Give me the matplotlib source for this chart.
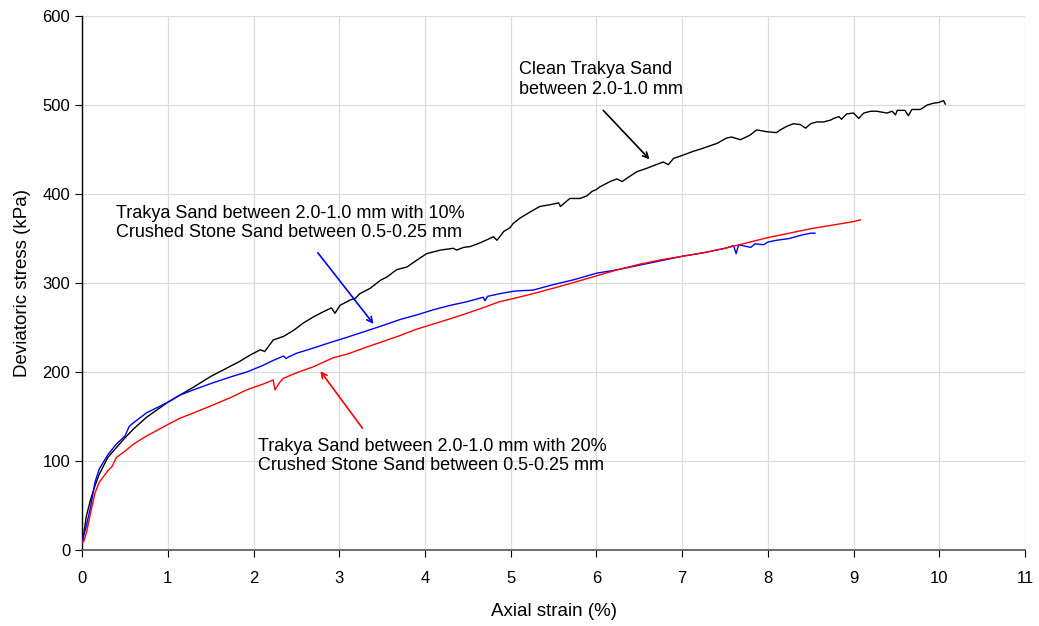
import matplotlib
matplotlib.use("Agg")
import matplotlib.pyplot as plt

plt.rcParams['font.family'] = ['Liberation Sans', 'DejaVu Sans']

# Clean Trakya Sand between 2.0-1.0 mm
clean_x = [0, 0.01, 0.05, 0.1, 0.15, 0.2, 0.3, 0.4, 0.5, 0.6, 0.75, 1.0, 1.3, 1.5,
           1.84, 1.96, 2.08, 2.13, 2.23, 2.35, 2.47, 2.58, 2.70, 2.82, 2.91, 2.95, 3.01,
           3.13, 3.19, 3.24, 3.36, 3.48, 3.56, 3.67, 3.75, 3.79, 3.91, 4.02, 4.18, 4.33,
           4.37, 4.45, 4.53, 4.64, 4.80, 4.84, 4.92, 4.99, 5.03, 5.11, 5.23, 5.34, 5.46,
           5.56, 5.58, 5.69, 5.81, 5.89, 5.95, 6.00, 6.04, 6.16, 6.24, 6.30, 6.36, 6.47,
           6.59, 6.67, 6.78, 6.84, 6.90, 7.02, 7.13, 7.23, 7.29, 7.41, 7.52, 7.58, 7.68,
           7.79, 7.87, 7.99, 8.10, 8.145, 8.22, 8.30, 8.38, 8.44, 8.50, 8.57, 8.65, 8.73,
           8.77, 8.83, 8.86, 8.92, 9.00, 9.06, 9.12, 9.20, 9.27, 9.39, 9.45, 9.49, 9.51,
           9.60, 9.64, 9.68, 9.78, 9.86, 9.93, 10.00, 10.05, 10.07]
clean_y = [8, 12, 38, 57, 72, 85, 104, 115, 126, 136, 149, 166, 183, 195,
           212, 219, 225, 223, 236, 240, 247, 255, 262, 268, 272, 266, 275,
           281, 283, 288, 294, 303, 307, 315, 317, 318, 326, 333, 337, 339,
           337, 340, 341, 345, 352, 348, 358, 362, 367, 373, 380, 386, 388,
           390, 386, 395, 395, 398, 403, 405, 408, 414, 417, 414, 418, 425,
           429, 432, 436, 433, 440, 444, 448, 451, 453, 457, 463, 464, 461,
           466, 472, 470, 469, 472, 476, 479, 478, 474, 479, 481, 481, 483,
           485, 487, 484, 490, 491, 485, 491, 493, 493, 491, 493, 489, 494,
           494, 488, 495, 495, 500, 502, 503, 505, 501]

# Trakya Sand with 10% Crushed Stone Sand
s10_x = [0, 0.05, 0.1, 0.15, 0.2, 0.3, 0.4, 0.5, 0.55, 0.6, 0.75, 1.0, 1.14, 1.3, 1.53,
         1.75, 1.92, 2.10, 2.23, 2.35, 2.38, 2.41, 2.50, 2.70, 2.89, 3.09, 3.28, 3.50,
         3.71, 3.90, 4.10, 4.30, 4.49, 4.68, 4.70, 4.73, 4.87, 5.05, 5.26, 5.49, 5.75,
         6.0, 6.25, 6.5, 6.75, 7.0, 7.25, 7.5, 7.6, 7.63, 7.66, 7.8, 7.85, 7.95, 8.0,
         8.1, 8.25, 8.4, 8.5, 8.55]
s10_y = [10, 27, 49, 76, 91, 107, 119, 128, 139, 143, 154, 166, 174, 180, 188,
         195, 200, 207, 213, 218, 215, 217, 221, 227, 233, 239, 245, 252,
         259, 264, 270, 275, 279, 284, 280, 285, 288, 291, 292, 298, 304,
         311, 315, 320, 325, 330, 334, 339, 342, 333, 343, 340, 344, 343, 346,
         348, 350, 354, 356, 356]

# Trakya Sand with 20% Crushed Stone Sand
s20_x = [0, 0.02, 0.05, 0.1, 0.15, 0.2, 0.3, 0.35, 0.4, 0.5, 0.6, 0.75, 1.0, 1.14, 1.3,
         1.53, 1.75, 1.92, 2.1, 2.23, 2.25, 2.31, 2.35, 2.5, 2.70, 2.93, 3.09, 3.32,
         3.50, 3.71, 3.90, 4.10, 4.30, 4.49, 4.70, 4.87, 5.05, 5.26, 5.49, 5.75, 6.0,
         6.25, 6.5, 6.75, 7.0, 7.25, 7.5, 7.75, 8.0, 8.25, 8.5, 8.75, 9.0, 9.08]
s20_y = [8, 10, 19, 42, 64, 76, 89, 94, 104, 111, 119, 128, 141, 148, 154,
         163, 172, 180, 186, 191, 180, 189, 193, 199, 206, 216, 220, 228,
         234, 241, 248, 254, 260, 266, 273, 279, 283, 288, 294, 301, 308,
         315, 321, 326, 330, 334, 339, 345, 351, 356, 361, 365, 369, 371]

x_ticks = list(range(0, 12))
y_ticks = list(range(0, 601, 100))

fig = plt.figure(figsize=(10.39, 6.26), dpi=100)
ax = fig.add_axes([0.079, 0.1214, 0.9075, 0.853])

ax.plot(clean_x, clean_y, color='black', lw=1.0, zorder=3)
ax.plot(s10_x, s10_y, color='#0000ff', lw=1.0, zorder=3)
ax.plot(s20_x, s20_y, color='#ff0000', lw=1.0, zorder=3)

ax.set_xlim(0, 11)
ax.set_ylim(0, 600)
ax.set_xticks(x_ticks)
ax.set_yticks(y_ticks)
ax.grid(True, color='#dcdcdc', lw=0.9, zorder=0)
ax.set_axisbelow(True)
for s in ['top', 'right']:
    ax.spines[s].set_visible(False)
ax.spines['left'].set_color('black')
ax.spines['bottom'].set_color('#555555')
ax.spines['left'].set_linewidth(1.0)
ax.spines['bottom'].set_linewidth(1.2)
ax.tick_params(axis='both', direction='out', length=5, labelsize=12, colors='black')
ax.tick_params(axis='x', pad=10)

ax.set_xlabel('Axial strain (%)', fontsize=13.5, labelpad=12)
ax.set_ylabel('Deviatoric stress (kPa)', fontsize=13.5, labelpad=8)

ax.text(5.1, 549, 'Clean Trakya Sand\nbetween 2.0-1.0 mm', fontsize=13, va='top', ha='left')
ax.annotate('', xy=(6.62, 439), xytext=(6.08, 494),
            arrowprops=dict(arrowstyle='->', color='black', lw=1.2, shrinkA=0, shrinkB=0))

ax.text(0.39, 388, 'Trakya Sand between 2.0-1.0 mm with 10%\nCrushed Stone Sand between 0.5-0.25 mm',
        fontsize=13, va='top', ha='left')
ax.annotate('', xy=(3.40, 254), xytext=(2.75, 334),
            arrowprops=dict(arrowstyle='->', color='#0000ff', lw=1.2, shrinkA=0, shrinkB=0))

ax.text(2.05, 126, 'Trakya Sand between 2.0-1.0 mm with 20%\nCrushed Stone Sand between 0.5-0.25 mm',
        fontsize=13, va='top', ha='left')
ax.annotate('', xy=(2.78, 201), xytext=(3.27, 137),
            arrowprops=dict(arrowstyle='->', color='#ff0000', lw=1.2, shrinkA=0, shrinkB=0))

fig.savefig('out.png', dpi=100)
